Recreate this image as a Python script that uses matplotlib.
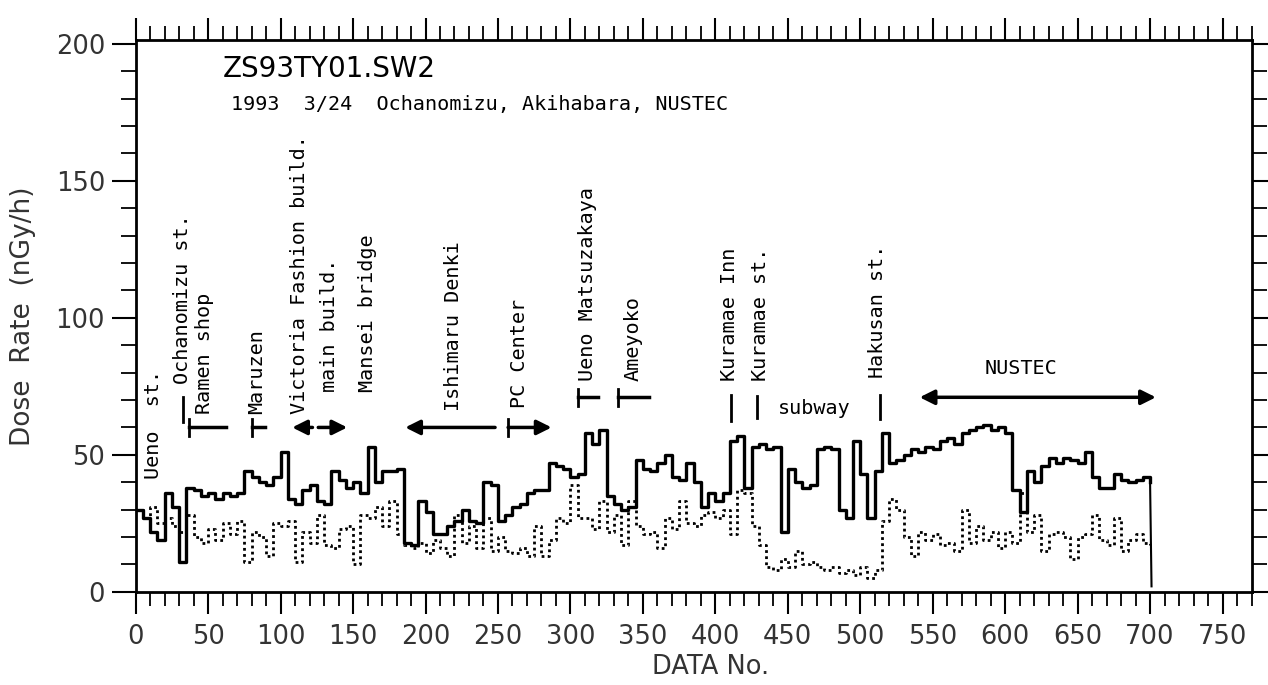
import matplotlib
matplotlib.use("Agg")
import matplotlib.pyplot as plt
from matplotlib.ticker import MultipleLocator
import numpy as np

data_no = list(range(0, 705, 5))

total_rate = [
    30, 27, 22, 19, 36, 31, 11, 38, 37, 35,      # 0-45
    36, 34, 36, 35, 36, 44, 42, 40, 39, 42,      # 50-95
    51, 34, 32, 37, 39, 33, 32, 44, 41, 38,      # 100-145
    40, 36, 53, 40, 44, 44, 45, 18, 17, 33,      # 150-195
    29, 21, 21, 24, 26, 30, 26, 25, 40, 39,      # 200-245
    26, 28, 31, 32, 36, 37, 37, 47, 46, 45,      # 250-295
    42, 43, 58, 54, 59, 35, 32, 30, 31, 48,      # 300-345
    45, 44, 47, 50, 42, 41, 47, 40, 31, 36,      # 350-395
    33, 36, 55, 57, 38, 53, 54, 52, 53, 22,      # 400-445
    45, 40, 38, 39, 52, 53, 52, 30, 27, 55,      # 450-495
    43, 27, 44, 58, 47, 48, 50, 52, 51, 53,      # 500-545
    52, 55, 56, 54, 58, 59, 60, 61, 59, 60,      # 550-595
    58, 37, 29, 44, 40, 46, 49, 47, 49, 48,      # 600-645
    47, 51, 42, 38, 38, 43, 41, 40, 41, 42,      # 650-695
    40,                                          # 700
]

gamma_rate = [
    30, 27, 31, 25, 27, 24, 22, 28, 20, 18,
    23, 19, 25, 21, 26, 11, 22, 20, 13, 25,
    24, 26, 11, 22, 18, 28, 17, 16, 23, 24,
    10, 28, 27, 31, 24, 33, 21, 17, 16, 18,
    14, 19, 16, 13, 28, 18, 24, 16, 27, 15,
    20, 15, 14, 16, 13, 24, 13, 19, 27, 25,
    39, 27, 27, 23, 33, 22, 28, 17, 33, 24,
    21, 22, 16, 27, 23, 33, 25, 24, 28, 29,
    27, 30, 21, 37, 36, 24, 17, 9, 8, 12,
    9, 15, 10, 11, 9, 8, 9, 7, 8, 6,
    9, 5, 8, 26, 34, 30, 20, 13, 22, 19,
    21, 17, 18, 15, 30, 18, 24, 19, 22, 16,
    22, 18, 36, 22, 28, 15, 21, 22, 20, 12,
    20, 21, 28, 19, 17, 27, 15, 19, 21, 18,
    17,
]

# ---- annotations ----
place_labels = ["Ueno  st.", "Ochanomizu st.", "Ramen shop", "Maruzen",
                "Victoria Fashion build.", "main build.", "Mansei bridge",
                "Ishimaru Denki", "PC Center", "Ueno Matsuzakaya", "Ameyoko",
                "Kuramae Inn", "Kuramae st.", "Hakusan st."]
place_x = [12, 32, 47.5, 83.5, 113, 134, 160, 219, 265, 312, 343, 410, 431, 512]
place_y = [41, 76, 65, 65, 65, 73, 73, 66, 67, 77, 77, 77, 77, 78]

# vertical marker bars: (x, y0, y1)
bar_x = [32.5, 37, 80, 257, 305, 333, 411, 429, 513.5]
bar_y0 = [62, 57, 57, 57, 68, 68, 62.5, 63.5, 63]
bar_y1 = [71, 63, 63, 63, 74, 74, 72, 71.5, 72]
# plain horizontal segments: (x0, x1, y)
seg_x0 = [37, 80, 305, 333]
seg_x1 = [62, 89, 319, 354]
seg_y = [60, 60, 71, 71]
# single arrows: tail -> head
arr_tail = [(122, 60), (126, 60), (248, 60), (257, 60)]
arr_head = [(108, 60), (146, 60), (186, 60), (287, 60)]
# double arrow (NUSTEC)
nustec_span = (541, 704, 71)

fig = plt.figure(figsize=(12.68, 6.85), dpi=100)
ax = fig.add_axes([0.107, 0.136, 0.880, 0.806])

ax.plot(data_no, total_rate, color="black", lw=2.4, drawstyle="steps-post")
ax.plot([data_no[-1], data_no[-1] + 1], [total_rate[-1], 2], color="black", lw=1.5)
ax.plot(data_no, gamma_rate, color="black", lw=2.0, ls=(0, (1, 1.2)),
        drawstyle="steps-post")

ax.set_xlim(0, 770)
ax.set_ylim(0, 201.5)

mono = "DejaVu Sans Mono"
for lab, x, y in zip(place_labels, place_x, place_y):
    ax.text(x, y, lab, rotation=90, ha="center", va="bottom",
            family=mono, fontsize=14.5, color="black")

for x, y0, y1 in zip(bar_x, bar_y0, bar_y1):
    ax.plot([x, x], [y0, y1], color="black", lw=2)
for x0, x1, y in zip(seg_x0, seg_x1, seg_y):
    ax.plot([x0, x1], [y, y], color="black", lw=2.5)
for t, h in zip(arr_tail, arr_head):
    ax.annotate("", xy=h, xytext=t,
                arrowprops=dict(arrowstyle="-|>", lw=2.5, color="black",
                                mutation_scale=22, shrinkA=0, shrinkB=0))
ax.annotate("", xy=(nustec_span[1], nustec_span[2]),
            xytext=(nustec_span[0], nustec_span[2]),
            arrowprops=dict(arrowstyle="<|-|>", lw=2.5, color="black",
                            mutation_scale=22, shrinkA=0, shrinkB=0))
ax.text(443, 67, "subway", ha="left", va="center", family=mono, fontsize=14.5)
ax.text(611, 81.5, "NUSTEC", ha="center", va="center", family=mono, fontsize=14.5)

ax.text(60, 188, "ZS93TY01.SW2", ha="left", va="baseline",
        family="DejaVu Sans", fontsize=20)
ax.text(66, 176, "1993  3/24  Ochanomizu, Akihabara, NUSTEC", ha="left",
        va="baseline", family=mono, fontsize=14.5)

# axes styling
for s in ax.spines.values():
    s.set_linewidth(2)
ax.xaxis.set_major_locator(MultipleLocator(50))
ax.xaxis.set_minor_locator(MultipleLocator(10))
ax.yaxis.set_major_locator(MultipleLocator(50))
ax.yaxis.set_minor_locator(MultipleLocator(10))
ax.tick_params(axis="both", which="both", direction="out", top=True, right=True,
               color="black")
ax.tick_params(axis="x", which="major", length=16, width=1.5, pad=7)
ax.tick_params(axis="x", which="minor", length=10, width=1.3)
ax.tick_params(axis="y", which="major", length=17, width=1.5, pad=5)
ax.tick_params(axis="y", which="minor", length=11, width=1.3)
ax.tick_params(labelsize=18.5, labelcolor="#333333")

ax.set_xlabel("DATA No.", fontsize=18.5, color="#333333", labelpad=0)
ax.xaxis.set_label_coords(0.515, -0.112)
ax.set_ylabel("Dose  Rate  (nGy/h)", fontsize=19, color="#333333", labelpad=14)

fig.savefig("out.png", dpi=100)
